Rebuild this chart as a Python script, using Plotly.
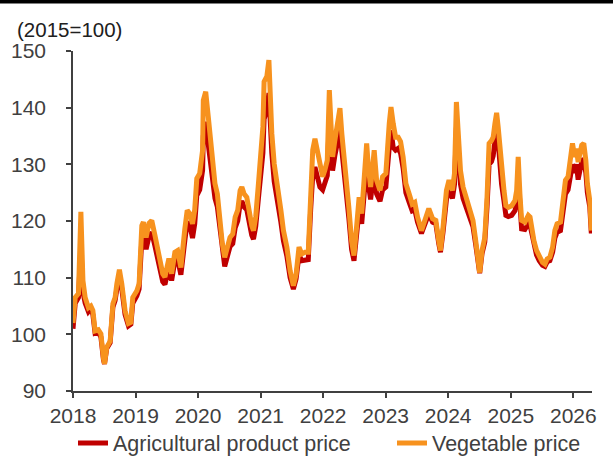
import plotly.graph_objects as go

# Weekly price indices (2015 = 100), sampled at turning points
dates = [
    "2018-01-01", "2018-01-14", "2018-02-02", "2018-02-16", "2018-02-28", "2018-03-13",
    "2018-04-01", "2018-04-15", "2018-04-27", "2018-05-10", "2018-05-29", "2018-06-13",
    "2018-06-28", "2018-07-04", "2018-07-17", "2018-08-06", "2018-08-22", "2018-09-04",
    "2018-09-14", "2018-09-29", "2018-10-13", "2018-11-01", "2018-11-21", "2018-12-05",
    "2018-12-16", "2019-01-09", "2019-01-22", "2019-02-07", "2019-02-16", "2019-03-04",
    "2019-03-21", "2019-04-06", "2019-04-25", "2019-05-08", "2019-05-24", "2019-06-09",
    "2019-06-22", "2019-07-15", "2019-07-31", "2019-08-19", "2019-09-04", "2019-09-23",
    "2019-10-16", "2019-10-30", "2019-11-14", "2019-11-30", "2019-12-13", "2019-12-25",
    "2020-01-11", "2020-01-28", "2020-02-01", "2020-02-15", "2020-03-01", "2020-03-15",
    "2020-03-26", "2020-04-09", "2020-04-23", "2020-05-09", "2020-05-22", "2020-06-05",
    "2020-06-21", "2020-07-06", "2020-07-22", "2020-08-05", "2020-08-20", "2020-09-03",
    "2020-09-13", "2020-09-26", "2020-10-12", "2020-10-25", "2020-11-10", "2020-11-20",
    "2020-12-03", "2020-12-19", "2021-01-02", "2021-01-14", "2021-01-21", "2021-02-06",
    "2021-02-18", "2021-02-25", "2021-03-07", "2021-03-21", "2021-04-02", "2021-04-15",
    "2021-04-29", "2021-05-14", "2021-06-03", "2021-06-22", "2021-07-11", "2021-07-27",
    "2021-08-13", "2021-08-29", "2021-09-17", "2021-10-06", "2021-10-20", "2021-11-01",
    "2021-11-14", "2021-11-27", "2021-12-13", "2021-12-29", "2022-01-11", "2022-01-25",
    "2022-02-06", "2022-02-15", "2022-02-25", "2022-03-10", "2022-03-24", "2022-04-09",
    "2022-04-20", "2022-05-04", "2022-05-18", "2022-05-31", "2022-06-16", "2022-06-30",
    "2022-07-15", "2022-07-30", "2022-08-14", "2022-08-27", "2022-09-12", "2022-09-22",
    "2022-10-05", "2022-10-17", "2022-10-26", "2022-11-09", "2022-11-29", "2022-12-14",
    "2023-01-02", "2023-01-22", "2023-02-01", "2023-02-14", "2023-02-28", "2023-03-15",
    "2023-03-29", "2023-04-13", "2023-04-29", "2023-05-18", "2023-06-05", "2023-06-20",
    "2023-07-06", "2023-07-29", "2023-08-17", "2023-09-10", "2023-10-02", "2023-10-21",
    "2023-11-07", "2023-11-17", "2023-12-02", "2023-12-22", "2024-01-06", "2024-01-26",
    "2024-02-07", "2024-02-18", "2024-02-28", "2024-03-13", "2024-03-28", "2024-04-13",
    "2024-04-26", "2024-05-10", "2024-05-25", "2024-06-10", "2024-06-24", "2024-07-03",
    "2024-07-17", "2024-08-02", "2024-08-15", "2024-08-27", "2024-09-10", "2024-09-20",
    "2024-09-30", "2024-10-10", "2024-10-19", "2024-10-29", "2024-11-08", "2024-11-22",
    "2024-12-03", "2024-12-17", "2025-01-06", "2025-01-25", "2025-02-04", "2025-02-13",
    "2025-02-23", "2025-03-05", "2025-03-24", "2025-04-13", "2025-04-23", "2025-05-02",
    "2025-05-16", "2025-05-31", "2025-06-16", "2025-07-05", "2025-07-19", "2025-08-01",
    "2025-08-17", "2025-09-02", "2025-09-15", "2025-09-28", "2025-10-18", "2025-11-02",
    "2025-11-16", "2025-12-01", "2025-12-15", "2025-12-27", "2026-01-09", "2026-01-19",
    "2026-01-29", "2026-02-08", "2026-02-19", "2026-03-03", "2026-03-15", "2026-03-24",
    "2026-04-07", "2026-04-16",
]

agri_price = [
    101.0, 105.5, 106.5, 115.5, 107.5, 105.5,
    104.0, 104.5, 103.5, 100.2, 100.4, 99.5,
    95.5, 94.8, 97.5, 98.5, 104.8, 106.0,
    108.0, 110.3, 108.0, 103.5, 101.5, 101.8,
    105.5, 106.8, 108.0, 116.8, 117.5, 115.0,
    117.3, 118.0, 115.5, 113.5, 111.5, 109.3,
    108.8, 111.8, 109.5, 113.0, 113.3, 110.5,
    116.5, 119.8, 119.3, 117.0, 119.5, 124.5,
    125.5, 129.0, 135.0, 137.5, 133.5, 130.0,
    126.0, 124.0, 122.5, 117.8, 114.5, 112.0,
    113.8, 115.5, 116.0, 118.8, 120.0, 123.0,
    123.5, 122.5, 122.0, 119.5, 117.5, 116.8,
    119.0, 124.0, 128.0, 132.0, 138.0, 139.5,
    142.6, 137.0, 132.0, 127.0, 125.0, 121.8,
    119.8, 116.5, 113.8, 110.0, 108.0, 109.8,
    114.0, 113.0, 113.2, 113.2, 122.0, 128.0,
    129.5, 128.0, 126.0, 125.5, 126.5, 128.0,
    138.4, 133.0, 128.9, 131.5, 134.0, 136.0,
    132.5, 128.8, 124.5, 120.5, 115.0, 113.0,
    117.5, 122.0, 119.5, 124.5, 130.0, 126.5,
    123.8, 126.8, 129.0, 124.8, 123.5, 125.5,
    126.0, 133.0, 136.0, 133.0, 132.5, 132.8,
    132.0, 129.3, 125.0, 123.3, 121.8, 122.0,
    119.8, 117.8, 119.5, 121.3, 119.8, 119.5,
    116.0, 114.5, 118.0, 123.8, 125.5, 124.0,
    126.5, 136.5, 132.5, 126.5, 124.0, 122.5,
    121.5, 120.0, 119.0, 115.8, 112.5, 110.8,
    114.3, 116.3, 122.5, 130.0, 130.5, 131.5,
    134.0, 136.5, 134.0, 130.0, 126.5, 123.5,
    121.0, 120.8, 121.0, 121.8, 123.3, 127.5,
    122.0, 118.6, 118.5, 119.5, 119.3, 117.8,
    115.5, 114.0, 113.0, 112.2, 112.0, 112.8,
    113.0, 114.5, 117.0, 118.0, 118.3, 122.0,
    124.8, 125.5, 128.0, 130.0, 128.5, 130.0,
    127.3, 129.5, 130.5, 131.0, 128.5, 125.0,
    122.5, 117.8,
]

vegetable_price = [
    102.0, 106.5, 107.2, 121.6, 109.5, 106.5,
    104.7, 105.0, 104.2, 100.6, 100.8, 100.1,
    95.7, 94.8, 97.7, 98.8, 105.4, 106.5,
    108.9, 111.4, 108.9, 104.2, 101.9, 102.1,
    106.5, 107.7, 108.9, 119.2, 119.8, 117.1,
    119.6, 120.1, 117.4, 115.4, 113.0, 110.7,
    110.1, 113.4, 110.7, 114.5, 114.8, 111.8,
    118.6, 121.9, 121.3, 119.5, 122.0, 127.5,
    128.4, 132.5, 141.3, 142.8, 138.4, 133.7,
    128.9, 126.6, 124.8, 119.6, 116.0, 113.6,
    115.4, 117.1, 117.7, 120.7, 121.9, 125.4,
    126.0, 124.8, 124.2, 121.3, 119.2, 118.3,
    120.7, 126.6, 131.3, 136.6, 144.6, 145.5,
    148.4, 141.9, 135.5, 130.1, 127.8, 124.2,
    121.9, 118.3, 115.4, 111.2, 108.6, 110.6,
    115.4, 114.2, 114.5, 114.5, 126.0, 132.5,
    134.5, 132.5, 129.5, 127.8, 129.0, 130.7,
    143.1, 136.6, 131.3, 134.2, 137.2, 139.9,
    135.4, 131.3, 126.6, 122.4, 116.5, 113.9,
    118.9, 124.2, 121.3, 127.2, 133.7, 129.5,
    126.0, 129.5, 132.5, 127.2, 125.4, 127.8,
    128.4, 137.2, 140.1, 137.2, 134.8, 134.8,
    134.0, 131.3, 126.6, 124.8, 123.0, 123.3,
    120.7, 118.3, 120.1, 122.2, 120.4, 120.1,
    116.5, 114.8, 118.9, 125.4, 127.2, 125.4,
    128.4, 141.0, 136.0, 128.9, 126.0, 124.2,
    123.0, 121.3, 120.1, 116.5, 113.0, 110.9,
    114.8, 117.1, 124.2, 133.7, 134.2, 134.8,
    137.2, 139.1, 136.6, 132.5, 128.4, 125.4,
    122.7, 122.4, 122.7, 123.6, 125.4, 131.3,
    124.8, 120.1, 119.8, 121.0, 120.7, 118.9,
    116.5, 114.8, 113.6, 112.7, 112.4, 113.3,
    113.6, 115.4, 118.3, 119.5, 119.8, 124.2,
    127.2, 127.8, 131.3, 133.7, 131.3, 132.8,
    130.4, 132.2, 133.4, 133.7, 130.7, 126.6,
    123.6, 118.3,
]

series_names = ["Agricultural product price", "Vegetable price"]
y_ticks = [90, 100, 110, 120, 130, 140, 150]
year_ticks = [f"{y}-01-01" for y in range(2018, 2027)]
year_labels = [str(y) for y in range(2018, 2027)]

W, H = 613, 457
ML, MR, MT, MB = 73, 21, 51, 66
PW, PH = W - ML - MR, H - MT - MB

AXIS = "#404040"
FONT = "Liberation Sans, Arial, sans-serif"

fig = go.Figure()
fig.add_trace(go.Scatter(
    x=dates, y=agri_price, name=series_names[0], mode="lines",
    line=dict(color="#C00000", width=5), legend="legend",
))
fig.add_trace(go.Scatter(
    x=dates, y=vegetable_price, name=series_names[1], mode="lines",
    line=dict(color="#F7921E", width=5), legend="legend2",
))

legend_style = dict(
    orientation="h", xref="container", yref="container",
    xanchor="left", y=(H - 443) / H, yanchor="middle",
    font=dict(size=21.5, color=AXIS), bgcolor="rgba(0,0,0,0)",
)

fig.update_layout(
    width=W, height=H,
    margin=dict(l=ML, r=MR, t=MT, b=MB, autoexpand=False),
    paper_bgcolor="white", plot_bgcolor="white",
    font=dict(family=FONT, size=21, color=AXIS),
    showlegend=True,
    legend=dict(x=73 / W, **legend_style),
    legend2=dict(x=392 / W, **legend_style),
    xaxis=dict(
        type="date", range=["2018-01-01", "2026-04-20"],
        tickvals=year_ticks, ticktext=year_labels,
        showgrid=False, zeroline=False,
        showline=True, linecolor=AXIS, linewidth=1.5,
        ticks="outside", ticklen=5, tickwidth=1.5, tickcolor=AXIS,
        tickfont=dict(size=21, color=AXIS),
    ),
    yaxis=dict(
        range=[90, 150], tickvals=y_ticks,
        showgrid=False, zeroline=False,
        showline=True, linecolor=AXIS, linewidth=1.5,
        ticks="outside", ticklen=5, tickwidth=1.5, tickcolor=AXIS,
        tickfont=dict(size=21, color=AXIS), ticklabelstandoff=16,
    ),
    shapes=[dict(
        type="rect", xref="paper", yref="paper",
        x0=-ML / PW, x1=1 + MR / PW,
        y0=1 + (MT - 3.5) / PH, y1=1 + MT / PH,
        fillcolor="black", line=dict(width=0), layer="above",
    )],
    annotations=[dict(
        text="(2015=100)", xref="paper", yref="paper",
        x=(15 - ML) / PW, y=1 + (MT - 29) / PH,
        xanchor="left", yanchor="middle", showarrow=False,
        font=dict(size=20.5, color="#202020"),
    )],
)

fig.write_html("out.html")
